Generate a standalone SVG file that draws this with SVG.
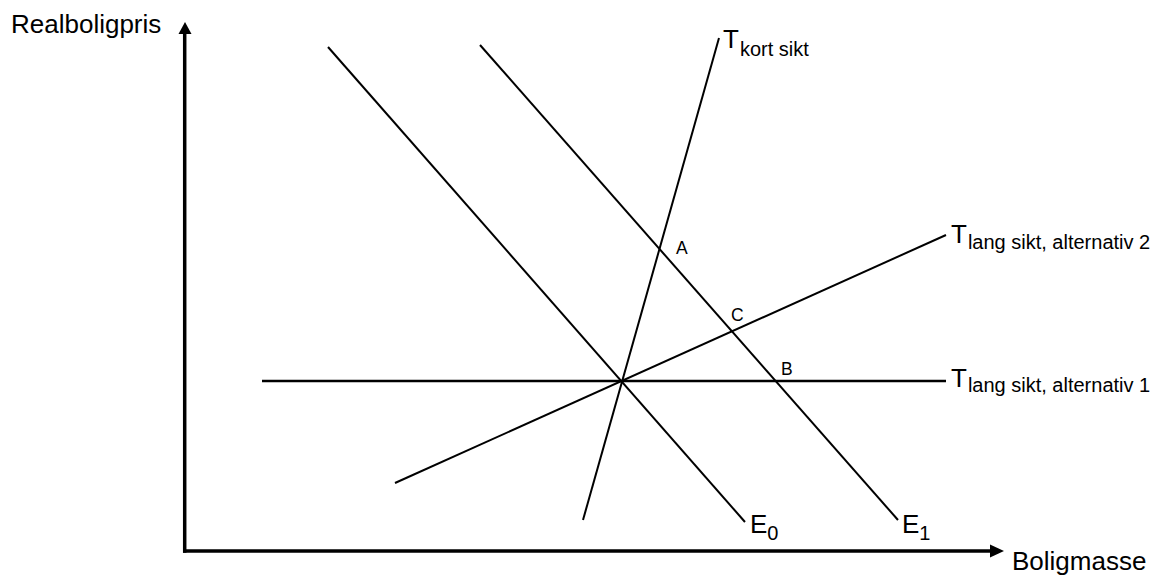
<svg xmlns="http://www.w3.org/2000/svg" width="1152" height="575" viewBox="0 0 1152 575">
  <style>
    .curve { stroke: #000; stroke-width: 2; fill: none; stroke-linecap: butt; }
    .axis { stroke: #000; stroke-width: 3.5; fill: none; }
    .lbl { font-family: "Liberation Sans", Arial, sans-serif; fill: #000; }
    .big { font-size: 26px; }
    .sub { font-size: 20px; }
    .pt { font-size: 17.5px; }
  </style>
  <rect width="1152" height="575" fill="#fff"/>
  <g id="axes">
    <line class="axis" x1="184.7" y1="552.7" x2="184.7" y2="32"/>
    <polygon points="185,22 178.5,34 191.5,34" fill="#000"/>
    <line class="axis" x1="183" y1="551" x2="992" y2="551"/>
    <polygon points="1004,551 990,544.5 990,557.5" fill="#000"/>
    <text class="lbl big" x="11" y="33">Realboligpris</text>
    <text class="lbl big" x="1012" y="570">Boligmasse</text>
  </g>
  <g id="curves">
    <line id="E0" class="curve" x1="328" y1="47" x2="745" y2="522"/>
    <line id="E1" class="curve" x1="480" y1="45" x2="898" y2="520"/>
    <line id="Tkort" class="curve" x1="583" y1="520" x2="719" y2="38"/>
    <line id="Tlang1" class="curve" x1="262" y1="381" x2="946" y2="381" style="stroke-width:2.5"/>
    <line id="Tlang2" class="curve" x1="395" y1="483" x2="946" y2="235"/>
  </g>
  <g id="labels">
    <text class="lbl big" x="723" y="48">T<tspan class="sub" dx="1" dy="8">kort sikt</tspan></text>
    <text class="lbl big" x="951" y="243">T<tspan class="sub" dx="1" dy="5.5">lang sikt, alternativ 2</tspan></text>
    <text class="lbl big" x="951" y="387">T<tspan class="sub" dx="1" dy="5">lang sikt, alternativ 1</tspan></text>
    <text class="lbl big" x="750" y="533">E<tspan class="sub" dy="7">0</tspan></text>
    <text class="lbl big" x="902" y="533">E<tspan class="sub" dy="7">1</tspan></text>
    <text class="lbl pt" x="676" y="254">A</text>
    <text class="lbl pt" x="731" y="321">C</text>
    <text class="lbl pt" x="781" y="375">B</text>
  </g>
</svg>
